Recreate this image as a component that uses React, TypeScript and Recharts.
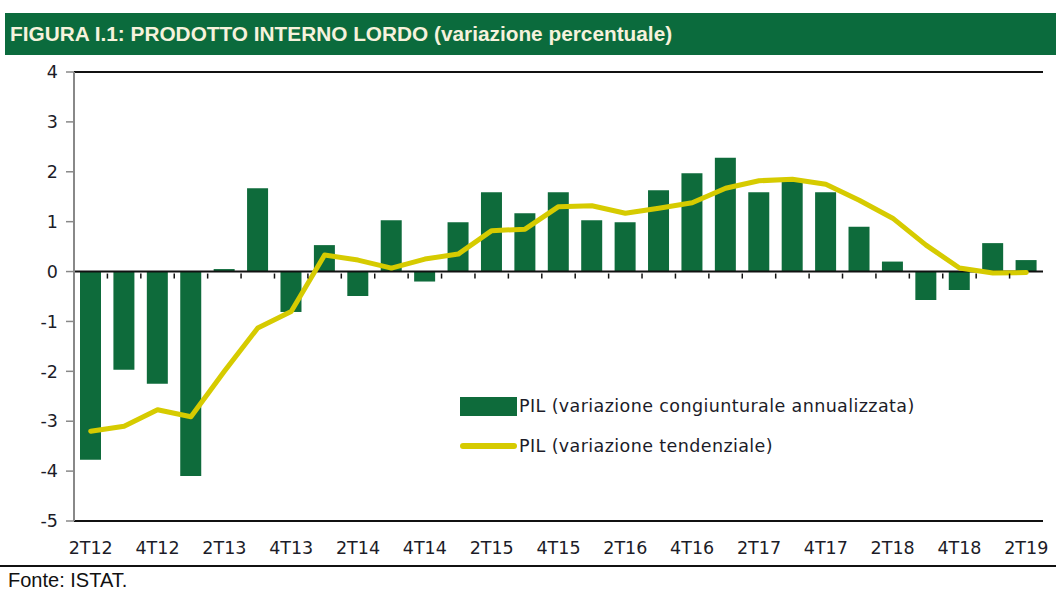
import React from "react";
import {
  ComposedChart,
  Bar,
  Line,
  XAxis,
  YAxis,
  ReferenceLine,
} from "recharts";

const quarters = [
  "2T12", "3T12", "4T12", "1T13", "2T13", "3T13", "4T13", "1T14", "2T14", "3T14",
  "4T14", "1T15", "2T15", "3T15", "4T15", "1T16", "2T16", "3T16", "4T16", "1T17",
  "2T17", "3T17", "4T17", "1T18", "2T18", "3T18", "4T18", "1T19", "2T19",
];

const congiunturale = [
  -3.77, -1.97, -2.25, -4.1, 0.05, 1.67, -0.81, 0.53, -0.49, 1.03,
  -0.2, 0.99, 1.59, 1.17, 1.59, 1.03, 0.99, 1.63, 1.97, 2.28,
  1.59, 1.8, 1.59, 0.9, 0.2, -0.57, -0.37, 0.57, 0.23,
];

const tendenziale = [
  -3.2, -3.1, -2.77, -2.91, -2.0, -1.13, -0.8, 0.33, 0.23, 0.07,
  0.25, 0.35, 0.82, 0.85, 1.3, 1.32, 1.17, 1.27, 1.38, 1.67,
  1.82, 1.85, 1.75, 1.43, 1.07, 0.53, 0.07, -0.03, -0.02,
];

const yTicks = [-5, -4, -3, -2, -1, 0, 1, 2, 3, 4];

const data = quarters.map((q, i) => ({
  q,
  cong: congiunturale[i],
  tend: tendenziale[i],
}));

const BAR = "#0e6b3b";
const LINE = "#d6cb00";
const FONT = "'DejaVu Sans', Verdana, sans-serif";

const CHART_W = 1056;
const CHART_H = 592;
const M_TOP = 72;
const M_BOTTOM = 41;
const X_H = 30;
const PLOT_H = CHART_H - M_TOP - M_BOTTOM - X_H;
const PLOT_LEFT = 74;
const PLOT_RIGHT = 1043;
const BAND = (PLOT_RIGHT - PLOT_LEFT) / quarters.length;

const XTick = (props: any) => {
  const { x, y, payload, index } = props;
  const zeroY = y - PLOT_H * (5 / 9);
  return (
    <g>
      {index < quarters.length - 1 && (
        <line x1={x + BAND / 2} x2={x + BAND / 2} y1={zeroY} y2={zeroY + 5} stroke="#111" strokeWidth={1.5} />
      )}
      {index % 2 === 0 && (
        <text x={x} y={y + 31} textAnchor="middle" fontFamily={FONT} fontSize={17.5} fill="#1c1c28">
          {payload.value}
        </text>
      )}
    </g>
  );
};

export default function App() {
  return (
    <div style={{ position: "absolute", left: 0, top: 0, width: CHART_W, height: CHART_H, background: "#fff", overflow: "hidden" }}>
      <div
        style={{
          position: "absolute",
          left: 5,
          top: 13,
          width: 1051,
          height: 42,
          background: "#0b6b3d",
          display: "flex",
          alignItems: "center",
          paddingLeft: 5,
          boxSizing: "border-box",
          fontFamily: "'Liberation Sans Narrow', 'Liberation Sans', sans-serif",
          fontWeight: 700,
          fontSize: 20.8,
          color: "#f6f2dc",
          whiteSpace: "nowrap",
        }}
      >
        FIGURA I.1: PRODOTTO INTERNO LORDO&nbsp;<span style={{ fontWeight: 700 }}>(variazione percentuale)</span>
      </div>

      <div style={{ position: "absolute", left: 0, top: 0 }}>
        <ComposedChart
          width={CHART_W}
          height={CHART_H}
          data={data}
          margin={{ top: M_TOP, right: CHART_W - PLOT_RIGHT, bottom: M_BOTTOM, left: 14 }}
        >
          <XAxis
            dataKey="q"
            interval={0}
            tickLine={false}
            tickSize={0}
            height={X_H}
            axisLine={{ stroke: "#111", strokeWidth: 2 }}
            tick={<XTick />}
          />
          <YAxis
            yAxisId="left"
            domain={[-5, 4]}
            ticks={yTicks}
            width={60}
            interval={0}
            tickSize={8}
            tickMargin={8}
            axisLine={{ stroke: "#888", strokeWidth: 2 }}
            tickLine={{ stroke: "#888", strokeWidth: 1.5 }}
            tick={{ fontFamily: FONT, fontSize: 17.5, fill: "#1c1c28" }}
          />
          <YAxis
            yAxisId="right"
            orientation="right"
            domain={[-5, 4]}
            width={0}
            tick={false}
            tickLine={false}
            axisLine={{ stroke: "#444", strokeWidth: 2 }}
          />
          <ReferenceLine yAxisId="left" y={4} stroke="#111" strokeWidth={2} />
          <ReferenceLine yAxisId="left" y={0} stroke="#111" strokeWidth={2} />
          <Bar yAxisId="left" dataKey="cong" fill={BAR} barSize={21} isAnimationActive={false} />
          <Line
            yAxisId="left"
            dataKey="tend"
            type="linear"
            stroke={LINE}
            strokeWidth={5}
            strokeLinejoin="round"
            strokeLinecap="round"
            dot={false}
            isAnimationActive={false}
          />
        </ComposedChart>
      </div>

      <div style={{ position: "absolute", left: 460, top: 396, display: "flex", alignItems: "center", fontFamily: FONT, fontSize: 17.5, color: "#1c1c28", whiteSpace: "nowrap", letterSpacing: 0.4 }}>
        <div style={{ width: 57, height: 19, background: BAR, marginRight: 2 }} />
        <span>PIL (variazione congiunturale annualizzata)</span>
      </div>
      <div style={{ position: "absolute", left: 460, top: 436, display: "flex", alignItems: "center", fontFamily: FONT, fontSize: 17.5, color: "#1c1c28", whiteSpace: "nowrap", letterSpacing: 0.4 }}>
        <div style={{ width: 57, height: 6, background: LINE, borderRadius: 3, marginRight: 2 }} />
        <span>PIL (variazione tendenziale)</span>
      </div>

      <div style={{ position: "absolute", left: 0, top: 565, width: 1056, height: 2, background: "#111" }} />
      <div
        style={{
          position: "absolute",
          left: 8,
          top: 569,
          fontFamily: "'Liberation Sans Narrow', 'Liberation Sans', sans-serif",
          fontSize: 20,
          color: "#111",
        }}
      >
        Fonte: ISTAT.
      </div>
    </div>
  );
}
